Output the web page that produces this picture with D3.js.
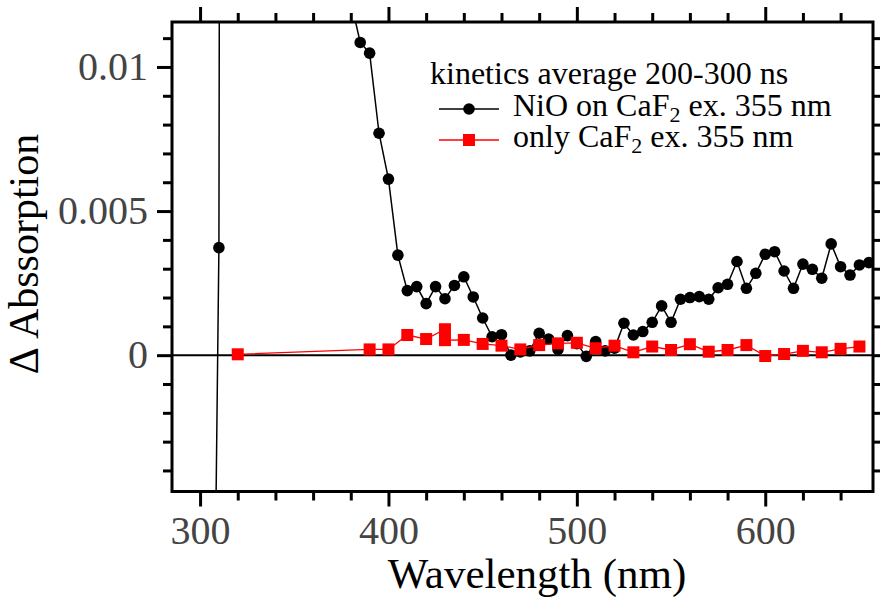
<!DOCTYPE html>
<html lang="en">
<head>
<meta charset="utf-8">
<title>Delta absorption spectrum</title>
<script src="https://cdn.jsdelivr.net/npm/d3@7"></script>
<style>
  body { margin: 0; background: #fff; }
  svg { display: block; }
</style>
</head>
<body>
<script>
// NiO on CaF2 (black circles), wavelength in nm
var nioWl = [305, 310, 315, 375, 380, 385, 390, 395, 400, 405, 410, 415, 420, 425, 430, 435, 440,
  445, 450, 455, 460, 465, 470, 475, 480, 485, 490, 495, 500, 505, 510, 515, 520, 525, 530, 535,
  540, 545, 550, 555, 560, 565, 570, 575, 580, 585, 590, 595, 600, 605, 610, 615, 620, 625, 630,
  635, 640, 645, 650, 655];
var nioVal = [-0.025, 0.00373, 0.2, 0.016, 0.0123, 0.01085, 0.01048, 0.0077, 0.00611, 0.00347,
  0.00224, 0.00238, 0.00179, 0.00238, 0.00196, 0.00242, 0.00272, 0.00202, 0.00129, 0.00064,
  0.00071, 0.0, 0.00011, 0.00015, 0.00076, 0.00056, 0.0002, 0.00068, 0.0004, -0.00004, 0.00047,
  0.00015, 0.00024, 0.00111, 0.0007, 0.00082, 0.00114, 0.00171, 0.00114, 0.00194, 0.002, 0.00203,
  0.00194, 0.00234, 0.00246, 0.00325, 0.00232, 0.00284, 0.0035, 0.00359, 0.00292, 0.00232,
  0.00316, 0.00298, 0.00267, 0.00386, 0.00307, 0.00278, 0.00313, 0.00321];

// only CaF2 (red squares)
var cafWl = [320, 390, 400, 410, 420, 430, 430, 440, 450, 460, 470, 480, 490, 500, 510, 520,
  530, 540, 550, 560, 570, 580, 590, 600, 610, 620, 630, 640, 650];
var cafVal = [0.00003, 0.0002, 0.0002, 0.0007, 0.00056, 0.0009, 0.00052, 0.00053, 0.00039,
  0.00033, 0.0002, 0.00035, 0.00041, 0.00043, 0.00024, 0.00033, 0.0001, 0.0003, 0.00018,
  0.00038, 0.00012, 0.00018, 0.00035, -0.00003, 0.00004, 0.00015, 0.0001, 0.00022, 0.0003];

var xMajor = [300, 400, 500, 600];
var yMajor = [0, 0.005, 0.01];
var yLabels = ["0", "0.005", "0.01"];

var w = 880, h = 599;
var pL = 172, pR = 873, pT = 22, pB = 491.5;
var serif = "'Liberation Serif', 'DejaVu Serif', serif";

var x = d3.scaleLinear().domain([285.1, 657.2]).range([pL, pR]);
var y = d3.scaleLinear().domain([-0.00473, 0.01156]).range([pB, pT]);

var xMinor = d3.range(320, 657, 20).filter(function(d) { return d % 100 !== 0; });
var yMinor = d3.range(-4, 12).filter(function(d) { return d % 5 !== 0; })
  .map(function(d) { return d / 1000; });

var svg = d3.select("body").append("svg")
  .attr("width", w)
  .attr("height", h)
  .style("background", "#fff");

svg.append("defs").append("clipPath").attr("id", "plot")
  .append("rect")
  .attr("x", pL).attr("y", pT)
  .attr("width", pR - pL).attr("height", pB - pT);

// zero line
svg.append("line")
  .attr("x1", pL).attr("x2", pR)
  .attr("y1", y(0)).attr("y2", y(0))
  .attr("stroke", "#000").attr("stroke-width", 2);

var plot = svg.append("g").attr("clip-path", "url(#plot)");

var nio = nioWl.map(function(d, i) { return [d, nioVal[i]]; });
var caf = cafWl.map(function(d, i) { return [d, cafVal[i]]; });

var line = d3.line()
  .x(function(d) { return x(d[0]); })
  .y(function(d) { return y(d[1]); });

plot.append("path").datum(nio)
  .attr("d", line)
  .attr("fill", "none").attr("stroke", "#000").attr("stroke-width", 1.5);

plot.selectAll(".dot").data(nio).enter()
  .append("circle")
  .attr("class", "dot")
  .attr("cx", function(d) { return x(d[0]); })
  .attr("cy", function(d) { return y(d[1]); })
  .attr("r", 5.8)
  .attr("fill", "#000");

plot.append("path").datum(caf)
  .attr("d", line)
  .attr("fill", "none").attr("stroke", "#ff0000").attr("stroke-width", 1.3);

plot.selectAll(".sq").data(caf).enter()
  .append("rect")
  .attr("class", "sq")
  .attr("x", function(d) { return x(d[0]) - 6; })
  .attr("y", function(d) { return y(d[1]) - 6; })
  .attr("width", 12).attr("height", 12)
  .attr("fill", "#ff0000");

// axes, ticks pointing outward
function styleAxis(g) {
  g.select(".domain").remove();
  g.selectAll(".tick line").attr("stroke", "#000").attr("stroke-width", 3);
  g.selectAll("text")
    .attr("fill", "#444")
    .style("font-family", serif)
    .style("font-size", "40px");
}

svg.append("g").attr("transform", "translate(0," + pB + ")")
  .call(d3.axisBottom(x).tickValues(xMinor).tickSize(9).tickFormat(""))
  .call(styleAxis);
svg.append("g").attr("transform", "translate(0," + pB + ")")
  .call(d3.axisBottom(x).tickValues(xMajor).tickSize(15).tickFormat(d3.format("d")))
  .call(styleAxis)
  .selectAll("text").attr("y", 52).attr("dy", 0);

svg.append("g").attr("transform", "translate(0," + pT + ")")
  .call(d3.axisTop(x).tickValues(xMinor).tickSize(9).tickFormat(""))
  .call(styleAxis);
svg.append("g").attr("transform", "translate(0," + pT + ")")
  .call(d3.axisTop(x).tickValues(xMajor).tickSize(15).tickFormat(""))
  .call(styleAxis);

svg.append("g").attr("transform", "translate(" + pL + ",0)")
  .call(d3.axisLeft(y).tickValues(yMinor).tickSize(9).tickFormat(""))
  .call(styleAxis);
svg.append("g").attr("transform", "translate(" + pL + ",0)")
  .call(d3.axisLeft(y).tickValues(yMajor).tickSize(15)
    .tickFormat(function(d, i) { return yLabels[i]; }))
  .call(styleAxis)
  .selectAll("text").attr("x", -24);

svg.append("g").attr("transform", "translate(" + pR + ",0)")
  .call(d3.axisRight(y).tickValues(yMinor).tickSize(9).tickFormat(""))
  .call(styleAxis);
svg.append("g").attr("transform", "translate(" + pR + ",0)")
  .call(d3.axisRight(y).tickValues(yMajor).tickSize(15).tickFormat(""))
  .call(styleAxis);

// frame
svg.append("rect")
  .attr("x", pL).attr("y", pT)
  .attr("width", pR - pL).attr("height", pB - pT)
  .attr("fill", "none").attr("stroke", "#000").attr("stroke-width", 3);

// axis titles
svg.append("text")
  .attr("x", 537).attr("y", 588)
  .attr("text-anchor", "middle")
  .style("font-family", serif).style("font-size", "43px")
  .text("Wavelength (nm)");

svg.append("text")
  .attr("transform", "translate(38,254) rotate(-90)")
  .attr("text-anchor", "middle")
  .style("font-family", serif).style("font-size", "42px")
  .text("\u0394 Abssorption");

// legend
var legend = svg.append("g").style("font-family", serif).style("font-size", "32px");
legend.append("text").attr("x", 430).attr("y", 84).text("kinetics average 200-300 ns");

function legendRow(yy, color, label1, label2, marker) {
  legend.append("line")
    .attr("x1", 439).attr("x2", 499).attr("y1", yy).attr("y2", yy)
    .attr("stroke", color).attr("stroke-width", color === "#000" ? 1.5 : 1.3);
  if (marker === "circle") {
    legend.append("circle").attr("cx", 469).attr("cy", yy).attr("r", 5.8).attr("fill", color);
  } else {
    legend.append("rect").attr("x", 463).attr("y", yy - 6)
      .attr("width", 12).attr("height", 12).attr("fill", color);
  }
  var t = legend.append("text").attr("x", 513).attr("y", yy + 7);
  t.append("tspan").text(label1);
  t.append("tspan").attr("dy", 6).style("font-size", "22px").text("2");
  t.append("tspan").attr("dy", -6).text(label2);
}
legendRow(109, "#000", "NiO on CaF", " ex. 355 nm", "circle");
legendRow(140, "#ff0000", "only CaF", " ex. 355 nm", "square");
</script>
</body>
</html>
